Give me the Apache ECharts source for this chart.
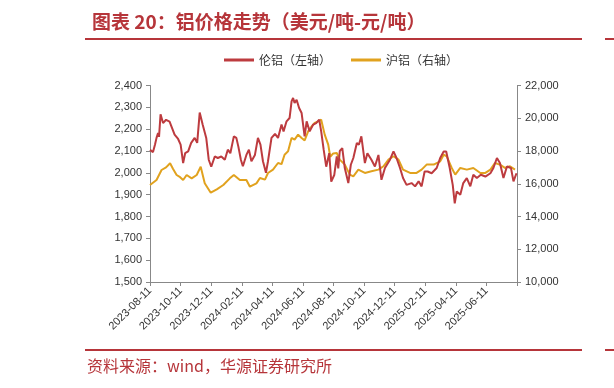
<!DOCTYPE html>
<html>
<head>
<meta charset="utf-8">
<script src="https://cdn.jsdelivr.net/npm/echarts@6/dist/echarts.min.js"></script>
<style>html,body{margin:0;padding:0;background:#fff}#c{width:614px;height:388px}</style>
</head>
<body>
<div id="c"></div>
<script>
var tickLabels = ['2023-08-11','2023-10-11','2023-12-11','2024-02-11','2024-04-11','2024-06-11','2024-08-11','2024-10-11','2024-12-11','2025-02-11','2025-04-11','2025-06-11',''];

var lmeDates = ['2023-08-11','2023-08-17','2023-08-21','2023-08-24','2023-08-27','2023-08-29','2023-09-01','2023-09-06','2023-09-12','2023-09-19','2023-09-24','2023-09-29','2023-10-06','2023-10-11','2023-10-16','2023-10-20','2023-10-26','2023-11-01','2023-11-08','2023-11-13','2023-11-18','2023-11-21','2023-11-24','2023-12-01','2023-12-06','2023-12-11','2023-12-18','2023-12-24','2023-12-31','2024-01-07','2024-01-13','2024-01-18','2024-01-25','2024-01-30','2024-02-03','2024-02-08','2024-02-12','2024-02-19','2024-02-24','2024-02-29','2024-03-07','2024-03-13','2024-03-18','2024-03-23','2024-03-29','2024-04-02','2024-04-09','2024-04-16','2024-04-22','2024-04-29','2024-05-03','2024-05-09','2024-05-15','2024-05-19','2024-05-22','2024-05-25','2024-05-29','2024-06-03','2024-06-08','2024-06-14','2024-06-18','2024-06-24','2024-07-01','2024-07-07','2024-07-13','2024-07-17','2024-07-22','2024-07-27','2024-08-02','2024-08-06','2024-08-12','2024-08-17','2024-08-20','2024-08-23','2024-08-28','2024-09-02','2024-09-09','2024-09-14','2024-09-19','2024-09-26','2024-09-30','2024-10-05','2024-10-12','2024-10-17','2024-10-25','2024-11-01','2024-11-08','2024-11-14','2024-11-21','2024-12-01','2024-12-08','2024-12-14','2024-12-21','2024-12-27','2025-01-03','2025-01-13','2025-01-20','2025-01-27','2025-02-02','2025-02-08','2025-02-14','2025-02-22','2025-03-04','2025-03-11','2025-03-18','2025-03-23','2025-03-30','2025-04-05','2025-04-09','2025-04-13','2025-04-20','2025-04-26','2025-05-03','2025-05-10','2025-05-16','2025-05-23','2025-05-31','2025-06-09','2025-06-19','2025-06-25','2025-07-02','2025-07-08','2025-07-15','2025-07-22','2025-07-30','2025-08-04','2025-08-10'];
var lmeValues = [2105,2095,2130,2160,2182,2165,2268,2228,2243,2235,2205,2175,2155,2129,2045,2090,2098,2137,2160,2137,2276,2284,2220,2160,2060,2028,2075,2068,2075,2060,2106,2090,2167,2160,2120,2060,2030,2082,2106,2053,2082,2160,2129,2053,2000,2053,2160,2178,2160,2221,2190,2236,2251,2327,2343,2320,2335,2297,2274,2167,2236,2190,2221,2228,2244,2190,2105,2028,2090,1960,1990,2075,2020,2100,2113,2022,1953,2037,2068,2137,2129,2167,2045,2090,2060,2029,2082,1968,2022,2060,2098,2068,2022,1976,1945,1953,1938,1961,1938,2006,2006,1998,2022,2068,2098,2098,2022,1945,1860,1915,1900,1953,1976,1938,1991,1976,1991,1983,1998,2022,2068,2045,1976,2029,2022,1961,1998];

var shfeDates = ['2023-08-11','2023-08-24','2023-09-03','2023-09-12','2023-09-20','2023-09-26','2023-10-03','2023-10-10','2023-10-16','2023-10-23','2023-11-02','2023-11-12','2023-11-20','2023-11-28','2023-12-10','2023-12-22','2024-01-04','2024-01-17','2024-01-25','2024-02-06','2024-02-19','2024-02-26','2024-03-10','2024-03-17','2024-03-27','2024-04-02','2024-04-12','2024-04-22','2024-04-29','2024-05-05','2024-05-12','2024-05-19','2024-05-25','2024-06-01','2024-06-08','2024-06-14','2024-06-21','2024-06-28','2024-07-04','2024-07-11','2024-07-17','2024-07-24','2024-07-31','2024-08-04','2024-08-10','2024-08-17','2024-08-23','2024-09-02','2024-09-12','2024-09-19','2024-09-29','2024-10-12','2024-10-25','2024-11-08','2024-11-18','2024-11-28','2024-12-08','2024-12-18','2024-12-27','2025-01-10','2025-01-23','2025-02-02','2025-02-12','2025-02-26','2025-03-11','2025-03-18','2025-03-24','2025-04-03','2025-04-10','2025-04-20','2025-05-03','2025-05-16','2025-05-30','2025-06-09','2025-06-19','2025-06-28','2025-07-08','2025-07-18','2025-07-28','2025-08-07'];
var shfeValues = [15924,16229,16840,17000,17250,16900,16535,16400,16229,16535,16330,16535,17042,16026,15455,15660,15924,16330,16535,16229,16229,15820,16026,16351,16249,16656,16860,17267,17200,17775,17979,18794,18692,18996,18794,18650,19201,19507,19710,19812,19914,19000,18386,17650,17854,17880,17474,17169,16558,16456,16863,16660,16762,16863,17067,17474,17678,17474,16863,16660,16660,16863,17169,17169,17372,17775,17673,16965,16558,16965,16863,16965,16660,16660,16863,17271,17169,16965,17067,16863];

var leftTicks = {min:1500, max:2400, interval:100};
var rightTicks = {min:10000, max:22000, interval:2000};

function zip(d, v){ return d.map(function(x,i){ return [x, v[i]]; }); }
function fmt(v){ return v.toLocaleString('en-US'); }

var RED = '#bd3b3f', YEL = '#e1a21e', TITLE = '#b6353a';
var chart = echarts.init(document.getElementById('c'), null, {renderer:'canvas'});
var axisTxt = {color:'#333', fontFamily:'Liberation Sans, Arial, sans-serif', fontSize:11};
chart.setOption({
  animation:false,
  title:{text:'图表 20：铝价格走势（美元/吨-元/吨）', left:87, top:7,
    textStyle:{color:TITLE, fontSize:19, fontWeight:'bold', fontFamily:'Noto Sans CJK SC'}},
  legend:{top:49, left:219, itemWidth:30, itemHeight:3, itemGap:20, icon:'rect',
    textStyle:{color:'#333', fontSize:12, fontFamily:'Noto Sans CJK SC'},
    data:['伦铝（左轴）','沪铝（右轴）']},
  grid:{left:150, right:97, top:85.5, bottom:106},
  xAxis:[
    {type:'time', min:'2023-08-11', max:'2025-08-11', show:false},
    {type:'category', data:tickLabels, boundaryGap:false, position:'bottom',
      axisLine:{lineStyle:{color:'#888', width:1}},
      axisTick:{show:true, length:4, lineStyle:{color:'#888'}, interval:0},
      axisLabel:{rotate:45, interval:0, margin:7, fontSize:11, color:'#333', fontFamily:'Liberation Sans, Arial, sans-serif'},
      splitLine:{show:false}}
  ],
  yAxis:[
    {type:'value', min:leftTicks.min, max:leftTicks.max, interval:leftTicks.interval, position:'left',
      axisLine:{show:true, lineStyle:{color:'#888'}}, axisTick:{show:true, length:4, lineStyle:{color:'#888'}},
      axisLabel:Object.assign({formatter:fmt, margin:8}, axisTxt), splitLine:{show:false}},
    {type:'value', min:rightTicks.min, max:rightTicks.max, interval:rightTicks.interval, position:'right',
      axisLine:{show:true, lineStyle:{color:'#888'}}, axisTick:{show:true, length:4, lineStyle:{color:'#888'}},
      axisLabel:Object.assign({formatter:fmt, margin:8}, axisTxt), splitLine:{show:false}}
  ],
  series:[
    {name:'伦铝（左轴）', type:'line', xAxisIndex:0, yAxisIndex:0, data:zip(lmeDates, lmeValues),
      showSymbol:false, symbol:'none', lineStyle:{color:RED, width:2}, itemStyle:{color:RED}, z:3},
    {name:'沪铝（右轴）', type:'line', xAxisIndex:0, yAxisIndex:1, data:zip(shfeDates, shfeValues),
      showSymbol:false, symbol:'none', lineStyle:{color:YEL, width:2}, itemStyle:{color:YEL}, z:2}
  ],
  graphic:[
    {type:'rect', shape:{x:85, y:38, width:497, height:2}, style:{fill:TITLE}},
    {type:'rect', shape:{x:605, y:38, width:9, height:2}, style:{fill:TITLE}},
    {type:'rect', shape:{x:85, y:349, width:497, height:2}, style:{fill:TITLE}},
    {type:'rect', shape:{x:605, y:349, width:9, height:2}, style:{fill:TITLE}},
    {type:'text', left:87, top:358, style:{text:'资料来源：wind，华源证券研究所', fill:TITLE, fontSize:16, fontFamily:'Noto Sans CJK SC'}}
  ]
});
</script>
</body>
</html>
